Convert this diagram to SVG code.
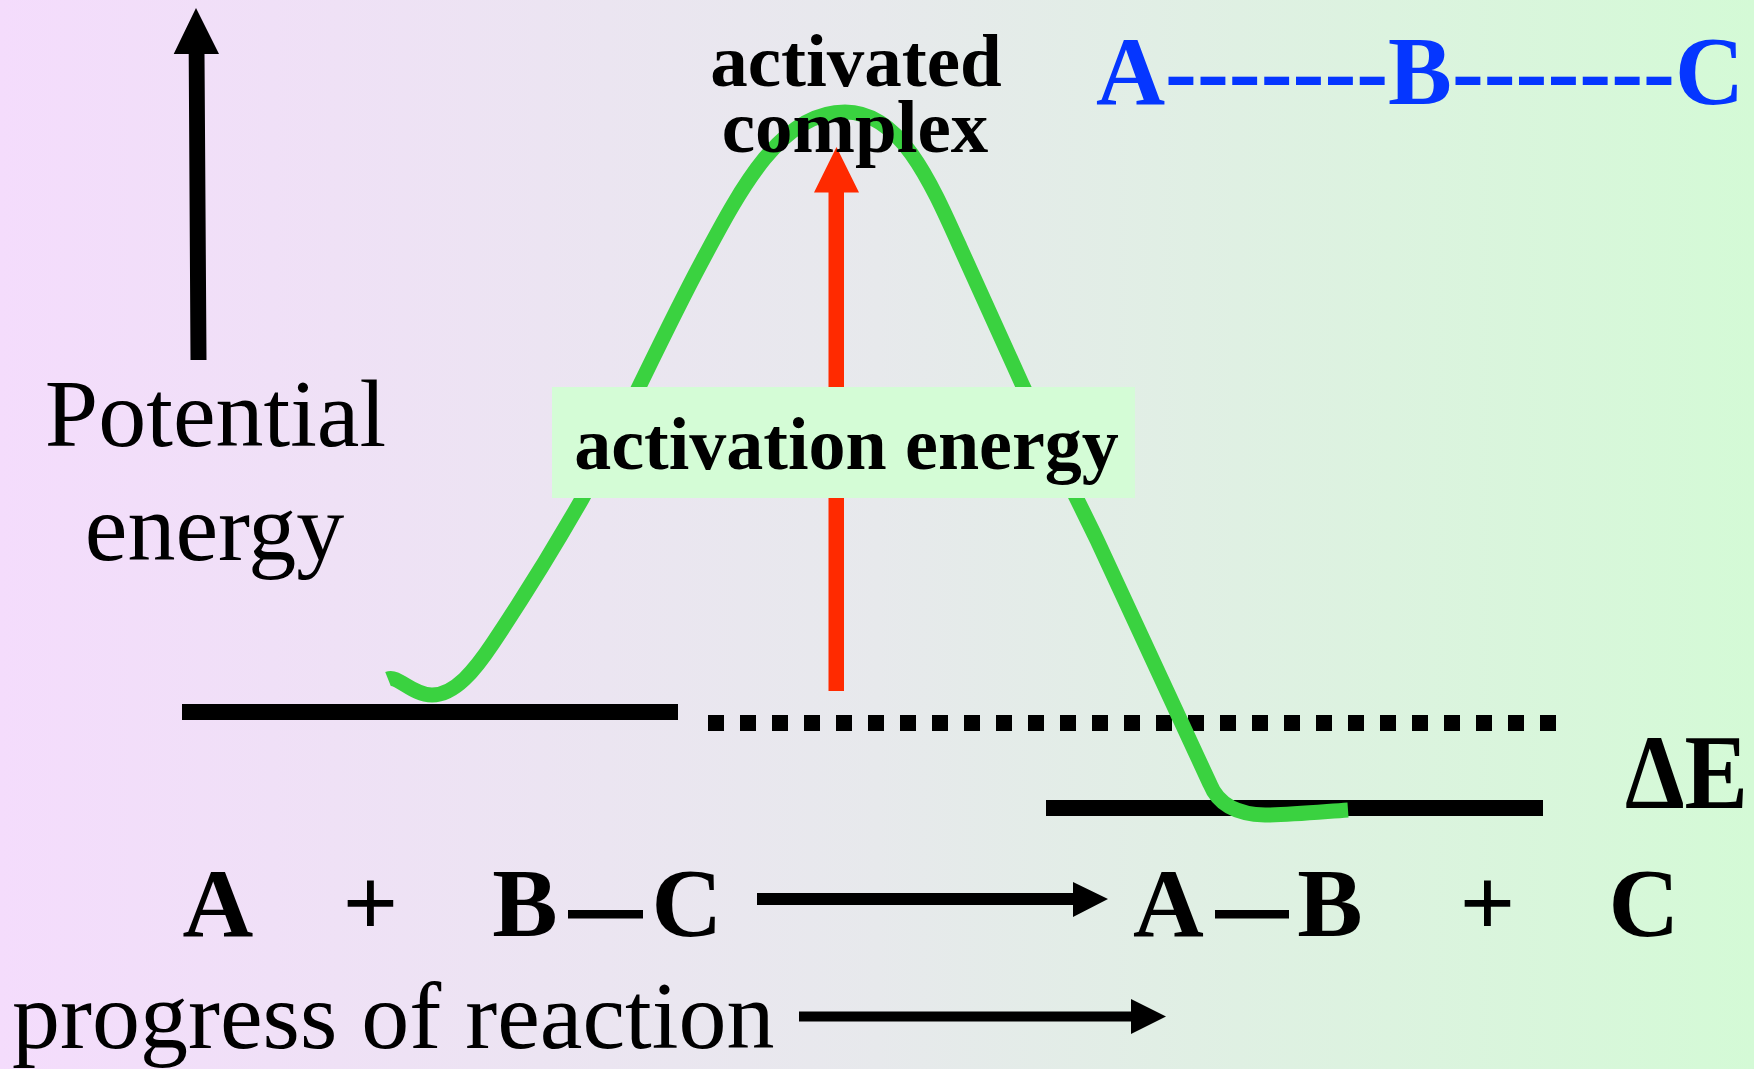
<svg xmlns="http://www.w3.org/2000/svg" width="1754" height="1069" viewBox="0 0 1754 1069">
  <defs>
    <linearGradient id="bg" x1="0" y1="0" x2="1" y2="0">
      <stop offset="0" stop-color="#F4DCFC"/>
      <stop offset="0.5" stop-color="#E7E9EC"/>
      <stop offset="1" stop-color="#D4FAD6"/>
    </linearGradient>
    <style>
      .serif { font-family: "Liberation Serif", "Times New Roman", serif; }
      .reg { font-weight: normal; fill: #000; }
      .bold { font-weight: bold; fill: #000; }
      .level { stroke: #000; stroke-width: 16; fill: none; }
      .curve { stroke: #3AD240; stroke-width: 15; fill: none; stroke-linejoin: round; }
      .arrow { fill: #000; }
      .red { fill: #FF2A00; }
      .blue { fill: #0536FF; }
      .bond { fill: #000; }
    </style>
  </defs>

  <rect x="0" y="0" width="1754" height="1069" fill="url(#bg)"/>

  <g id="reactant-level">
    <line class="level" x1="182" y1="712" x2="678" y2="712"/>
  </g>
  <g id="reference-level">
    <line class="level" x1="708" y1="723" x2="1556" y2="723" stroke-dasharray="16 16"/>
  </g>
  <g id="product-level">
    <line class="level" x1="1046" y1="808" x2="1543" y2="808"/>
  </g>

  <g id="energy-curve">
    <path class="curve" d="M388,679 C398,675 412,695 432,695 C455,695 475,670 493,643 C515,610 550,555 582,499 C620,430 660,340 700,265 C740,190 780,112 845,112 C900,112 930,180 960,247 L1022,384 C1050,445 1080,505 1097,540 L1210,784 Q1222,814 1265,815 C1290,815 1320,812 1348,810"/>
  </g>

  <g id="connectors">
    <polygon id="energy-axis-arrow" class="arrow" points="196,8 219,54 204.5,54 206.5,360 190.5,360 188.7,54 173.7,54"/>
    <polygon id="activation-arrow" class="red" points="836.5,147 859,192.5 844,192.5 844,691 828.5,691 828.5,192.5 814,192.5"/>
    <polygon id="reaction-arrow" class="arrow" points="757,893 1073,893 1073,882 1108,899 1073,917 1073,905 757,905"/>
    <polygon id="progress-arrow" class="arrow" points="799,1011.5 1131,1011.5 1131,999 1166,1016.5 1131,1034 1131,1021.5 799,1021.5"/>
  </g>

  <g id="activation-energy">
    <rect x="552" y="387" width="583" height="111" fill="#D4FCD6"/>
    <text class="serif bold" x="846.5" y="469" font-size="74" text-anchor="middle">activation energy</text>
  </g>

  <g id="potential-energy-label">
    <text class="serif reg" x="215.5" y="446" font-size="96" text-anchor="middle">Potential</text>
    <text class="serif reg" x="214.5" y="560" font-size="96" text-anchor="middle">energy</text>
  </g>

  <g id="activated-complex-label">
    <text class="serif bold" x="856" y="86" font-size="75" text-anchor="middle">activated</text>
    <text class="serif bold" x="855" y="152" font-size="75" text-anchor="middle">complex</text>
  </g>

  <g id="transition-state">
    <text class="serif bold blue" x="1096" y="104" font-size="98" textLength="648" lengthAdjust="spacingAndGlyphs">A-------B-------C</text>
  </g>

  <g id="delta-e-label">
    <text class="serif bold" x="1625" y="808" font-size="106" textLength="123" lengthAdjust="spacingAndGlyphs">ΔE</text>
  </g>

  <g id="reactants">
    <text class="serif bold" x="218" y="936" font-size="98" text-anchor="middle">A</text>
    <text class="serif bold" x="370.5" y="936" font-size="98" text-anchor="middle">+</text>
    <text class="serif bold" x="525" y="936" font-size="98" text-anchor="middle">B</text>
    <rect class="bond" x="568" y="910" width="75" height="8.5"/>
    <text class="serif bold" x="687" y="936" font-size="98" text-anchor="middle">C</text>
  </g>

  <g id="products">
    <text class="serif bold" x="1168.5" y="936" font-size="98" text-anchor="middle">A</text>
    <rect class="bond" x="1215" y="910" width="74" height="8.5"/>
    <text class="serif bold" x="1330" y="936" font-size="98" text-anchor="middle">B</text>
    <text class="serif bold" x="1487.5" y="936" font-size="98" text-anchor="middle">+</text>
    <text class="serif bold" x="1644" y="936" font-size="98" text-anchor="middle">C</text>
  </g>

  <g id="progress-label">
    <text class="serif reg" x="12" y="1048" font-size="96">progress of reaction</text>
  </g>
</svg>
